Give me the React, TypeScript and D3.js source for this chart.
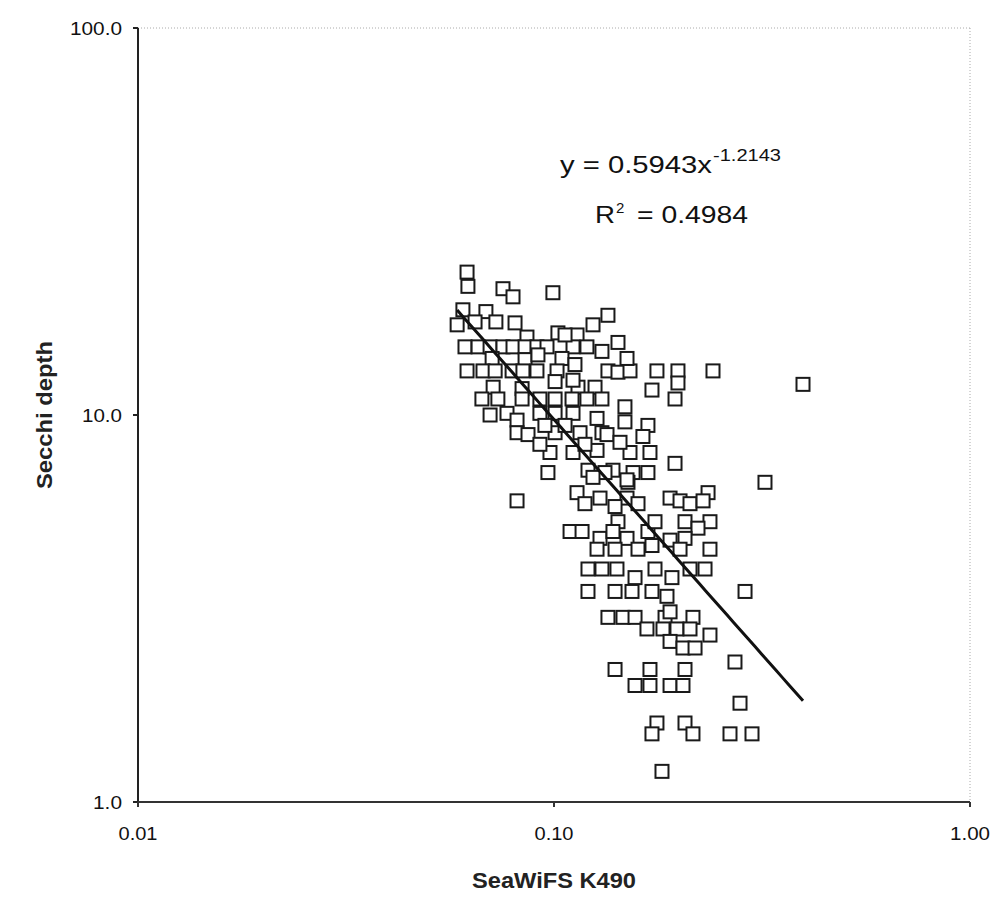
import React from "react";
import * as d3 from "d3";

// SeaWiFS diffuse attenuation at 490 nm (x) against in situ Secchi depth (y)
const kd490 = [
  0.0618, 0.0621, 0.0754, 0.0797, 0.0994, 0.0604, 0.0686, 0.0725, 0.0806, 0.0585,
  0.0646, 0.0861, 0.1348, 0.1241, 0.1022, 0.1136, 0.12, 0.1304,
  0.0611, 0.0657, 0.0702, 0.0754, 0.0797, 0.0852, 0.091, 0.0962, 0.1111,
  0.071, 0.0852, 0.0915, 0.1045, 0.1123,
  0.0618, 0.0675, 0.0722, 0.0793, 0.0842, 0.091, 0.1017, 0.1348, 0.1425, 0.1523, 0.1768, 0.1986, 0.2411,
  0.1425, 0.1498, 0.0714, 0.0838, 0.1006, 0.1142, 0.1255, 0.1986, 0.172,
  0.0671, 0.0733, 0.0838, 0.0925, 0.1006, 0.1105, 0.12, 0.1304, 0.1954,
  0.1481, 0.0702, 0.0771, 0.0925, 0.1006, 0.1111, 0.1269, 0.1481, 0.1682, 0.0815,
  0.0815, 0.0866, 0.1006, 0.1155, 0.1304, 0.1636, 0.1341,
  0.0978, 0.1111, 0.1269, 0.1523, 0.1701, 0.1954,
  0.0967, 0.1207, 0.1386, 0.1549, 0.1682, 0.1326, 0.3215, 0.1506,
  0.0815, 0.1136, 0.129, 0.1498, 0.1901, 0.2346, 0.1187, 0.1402, 0.1592, 0.2009, 0.2123, 0.2282,
  0.1425, 0.1093, 0.1168, 0.129, 0.1386, 0.1498, 0.1682, 0.1749, 0.2065, 0.2371, 0.2219, 0.2065, 0.1901,
  0.1269, 0.1402, 0.1592, 0.172, 0.2009, 0.2371,
  0.1304, 0.1417, 0.1566, 0.1749, 0.1921, 0.2123, 0.2307, 0.1207,
  0.1207, 0.1402, 0.154, 0.172, 0.1869, 0.2879,
  0.1348, 0.1465, 0.1566, 0.1849, 0.2158, 0.1901,
  0.1673, 0.1828, 0.1975, 0.2123, 0.2371, 0.1901, 0.2042, 0.2183, 0.2723,
  0.1402, 0.1701, 0.2065, 0.1566, 0.1701, 0.1901, 0.2042, 0.28,
  0.1768, 0.2065, 0.172, 0.2158, 0.2649, 0.2992, 0.1818, 0.3968,
  0.1111, 0.1441, 0.1241, 0.1498, 0.1063, 0.0951, 0.1063, 0.1187, 0.0925,
];

const secchi = [
  23.4, 21.5, 21.2, 20.2, 20.7, 18.7, 18.5, 17.4, 17.3, 17.1,
  17.4, 15.9, 18.1, 17.1, 16.3, 16.1, 15.0, 14.6,
  15, 15, 15, 15, 15, 15, 15, 15, 15,
  14.0, 13.9, 14.3, 14.0, 13.5,
  13, 13, 13, 13, 13, 13, 13, 13, 12.9, 13, 13, 13, 13,
  15.4, 14.0, 11.8, 11.7, 12.2, 11.8, 11.8, 12.1, 11.6,
  11, 11, 11, 11, 11, 11, 11, 11, 11,
  10.5, 10.0, 10.1, 10.1, 10.1, 10.1, 9.8, 9.6, 9.4, 9.7,
  9.0, 8.9, 9.0, 9.0, 9.0, 8.8, 8.9,
  8.0, 8.0, 8.1, 8.0, 8.0, 7.5,
  7.1, 7.2, 7.2, 7.1, 7.1, 7.1, 6.7, 6.7,
  6.0, 6.3, 6.1, 6.1, 6.1, 6.3, 5.9, 5.8, 5.9, 6.0, 5.9, 6.0,
  5.3, 5.0, 5.0, 4.8, 5.0, 4.8, 5.0, 5.3, 5.3, 5.3, 5.1, 4.8, 4.75,
  4.5, 4.5, 4.5, 4.6, 4.5, 4.5,
  4.0, 4.0, 3.8, 4.0, 3.8, 4.0, 4.0, 4.0,
  3.5, 3.5, 3.5, 3.5, 3.4, 3.5,
  3.0, 3.0, 3.0, 3.0, 3.0, 3.1,
  2.8, 2.8, 2.8, 2.8, 2.7, 2.6, 2.5, 2.5, 2.3,
  2.2, 2.2, 2.2, 2.0, 2.0, 2.0, 2.0, 1.8,
  1.6, 1.6, 1.5, 1.5, 1.5, 1.5, 1.2, 12.0,
  12.3, 8.5, 6.9, 6.8, 16.1, 9.4, 9.4, 8.4, 8.4,
];

const xTicks = [0.01, 0.1, 1];
const xTickLabels = ["0.01", "0.10", "1.00"];
const xTickWidths = [39, 39, 40];
const yTicks = [1, 10, 100];
const yTickLabels = ["1.0", "10.0", "100.0"];
const yTickWidths = [29, 40, 52];

// power-law fit  y = a * x^b
const fitA = 0.5943;
const fitB = -1.2143;
const fitR2 = 0.4984;

const FONT = "'Liberation Sans', Arial, Helvetica, sans-serif";

export default function App() {
  const W = 997;
  const H = 908;
  const left = 138;
  const right = 970;
  const top = 28;
  const bottom = 802;

  const x = d3.scaleLog().domain([0.01, 1]).range([left, right]);
  const y = d3.scaleLog().domain([1, 100]).range([bottom, top]);

  const xMin = d3.min(kd490) as number;
  const xMax = d3.max(kd490) as number;
  const fitXs = d3.range(0, 51).map((i) => xMin * Math.pow(xMax / xMin, i / 50));
  const fitPath = d3
    .line<number>()
    .x((d) => x(d))
    .y((d) => y(fitA * Math.pow(d, fitB)))(fitXs) as string;

  const sq = 13;
  const points = kd490.map((v, i) => [v, secchi[i]]);

  return (
    <svg
      width={W}
      height={H}
      viewBox={`0 0 ${W} ${H}`}
      style={{ position: "absolute", left: 0, top: 0, background: "#fff" }}
      fontFamily={FONT}
    >
      <rect x={0} y={0} width={W} height={H} fill="#fff" />

      {/* plot frame: faint dotted top and right edges */}
      <line x1={left} x2={right} y1={top} y2={top} stroke="#aaa" strokeWidth={1} strokeDasharray="1 2" />
      <line x1={right} x2={right} y1={top} y2={bottom} stroke="#aaa" strokeWidth={1} strokeDasharray="1 2" />

      {/* markers */}
      <g>
        {points.map(([a, b], i) => (
          <rect
            key={i}
            x={x(a) - sq / 2}
            y={y(b) - sq / 2}
            width={sq}
            height={sq}
            fill="#fff"
            stroke="#1a1a1a"
            strokeWidth={2}
          />
        ))}
      </g>

      {/* trend line */}
      <path d={fitPath} fill="none" stroke="#111" strokeWidth={3} />

      {/* axes */}
      <line x1={left} x2={left} y1={top} y2={bottom + 1} stroke="#222" strokeWidth={2} />
      <line x1={left} x2={right} y1={bottom} y2={bottom} stroke="#333" strokeWidth={2} />

      {yTicks.map((t, i) => (
        <g key={"y" + i}>
          <line x1={left - 5} x2={left} y1={y(t)} y2={y(t)} stroke="#222" strokeWidth={2} />
          <text
            x={122}
            y={y(t) + 6.5}
            textAnchor="end"
            fontSize={18}
            fill="#111"
            textLength={yTickWidths[i]}
            lengthAdjust="spacingAndGlyphs"
          >
            {yTickLabels[i]}
          </text>
        </g>
      ))}

      {xTicks.map((t, i) => (
        <g key={"x" + i}>
          <line x1={x(t)} x2={x(t)} y1={bottom} y2={bottom + 5} stroke="#333" strokeWidth={2} />
          <text
            x={x(t)}
            y={840}
            textAnchor="middle"
            fontSize={18}
            fill="#111"
            textLength={xTickWidths[i]}
            lengthAdjust="spacingAndGlyphs"
          >
            {xTickLabels[i]}
          </text>
        </g>
      ))}

      {/* axis titles */}
      <text
        x={554}
        y={888}
        textAnchor="middle"
        fontSize={22}
        fontWeight="bold"
        fill="#222"
        textLength={164}
        lengthAdjust="spacingAndGlyphs"
      >
        SeaWiFS K490
      </text>
      <text
        transform="translate(52,415) rotate(-90)"
        textAnchor="middle"
        fontSize={22}
        fontWeight="bold"
        fill="#222"
        textLength={148}
        lengthAdjust="spacingAndGlyphs"
      >
        Secchi depth
      </text>

      {/* fit equation */}
      <text x={560} y={173} fontSize={24} fill="#111" textLength={152} lengthAdjust="spacingAndGlyphs">
        {`y = ${fitA}x`}
      </text>
      <text x={713} y={161} fontSize={16} fill="#111" textLength={68} lengthAdjust="spacingAndGlyphs">
        {`${fitB}`}
      </text>
      <text x={595} y={223} fontSize={24} fill="#111" textLength={20} lengthAdjust="spacingAndGlyphs">
        R
      </text>
      <text x={616} y={213} fontSize={15} fill="#111">
        2
      </text>
      <text x={637} y={223} fontSize={24} fill="#111" textLength={111} lengthAdjust="spacingAndGlyphs">
        {`= ${fitR2}`}
      </text>
    </svg>
  );
}
